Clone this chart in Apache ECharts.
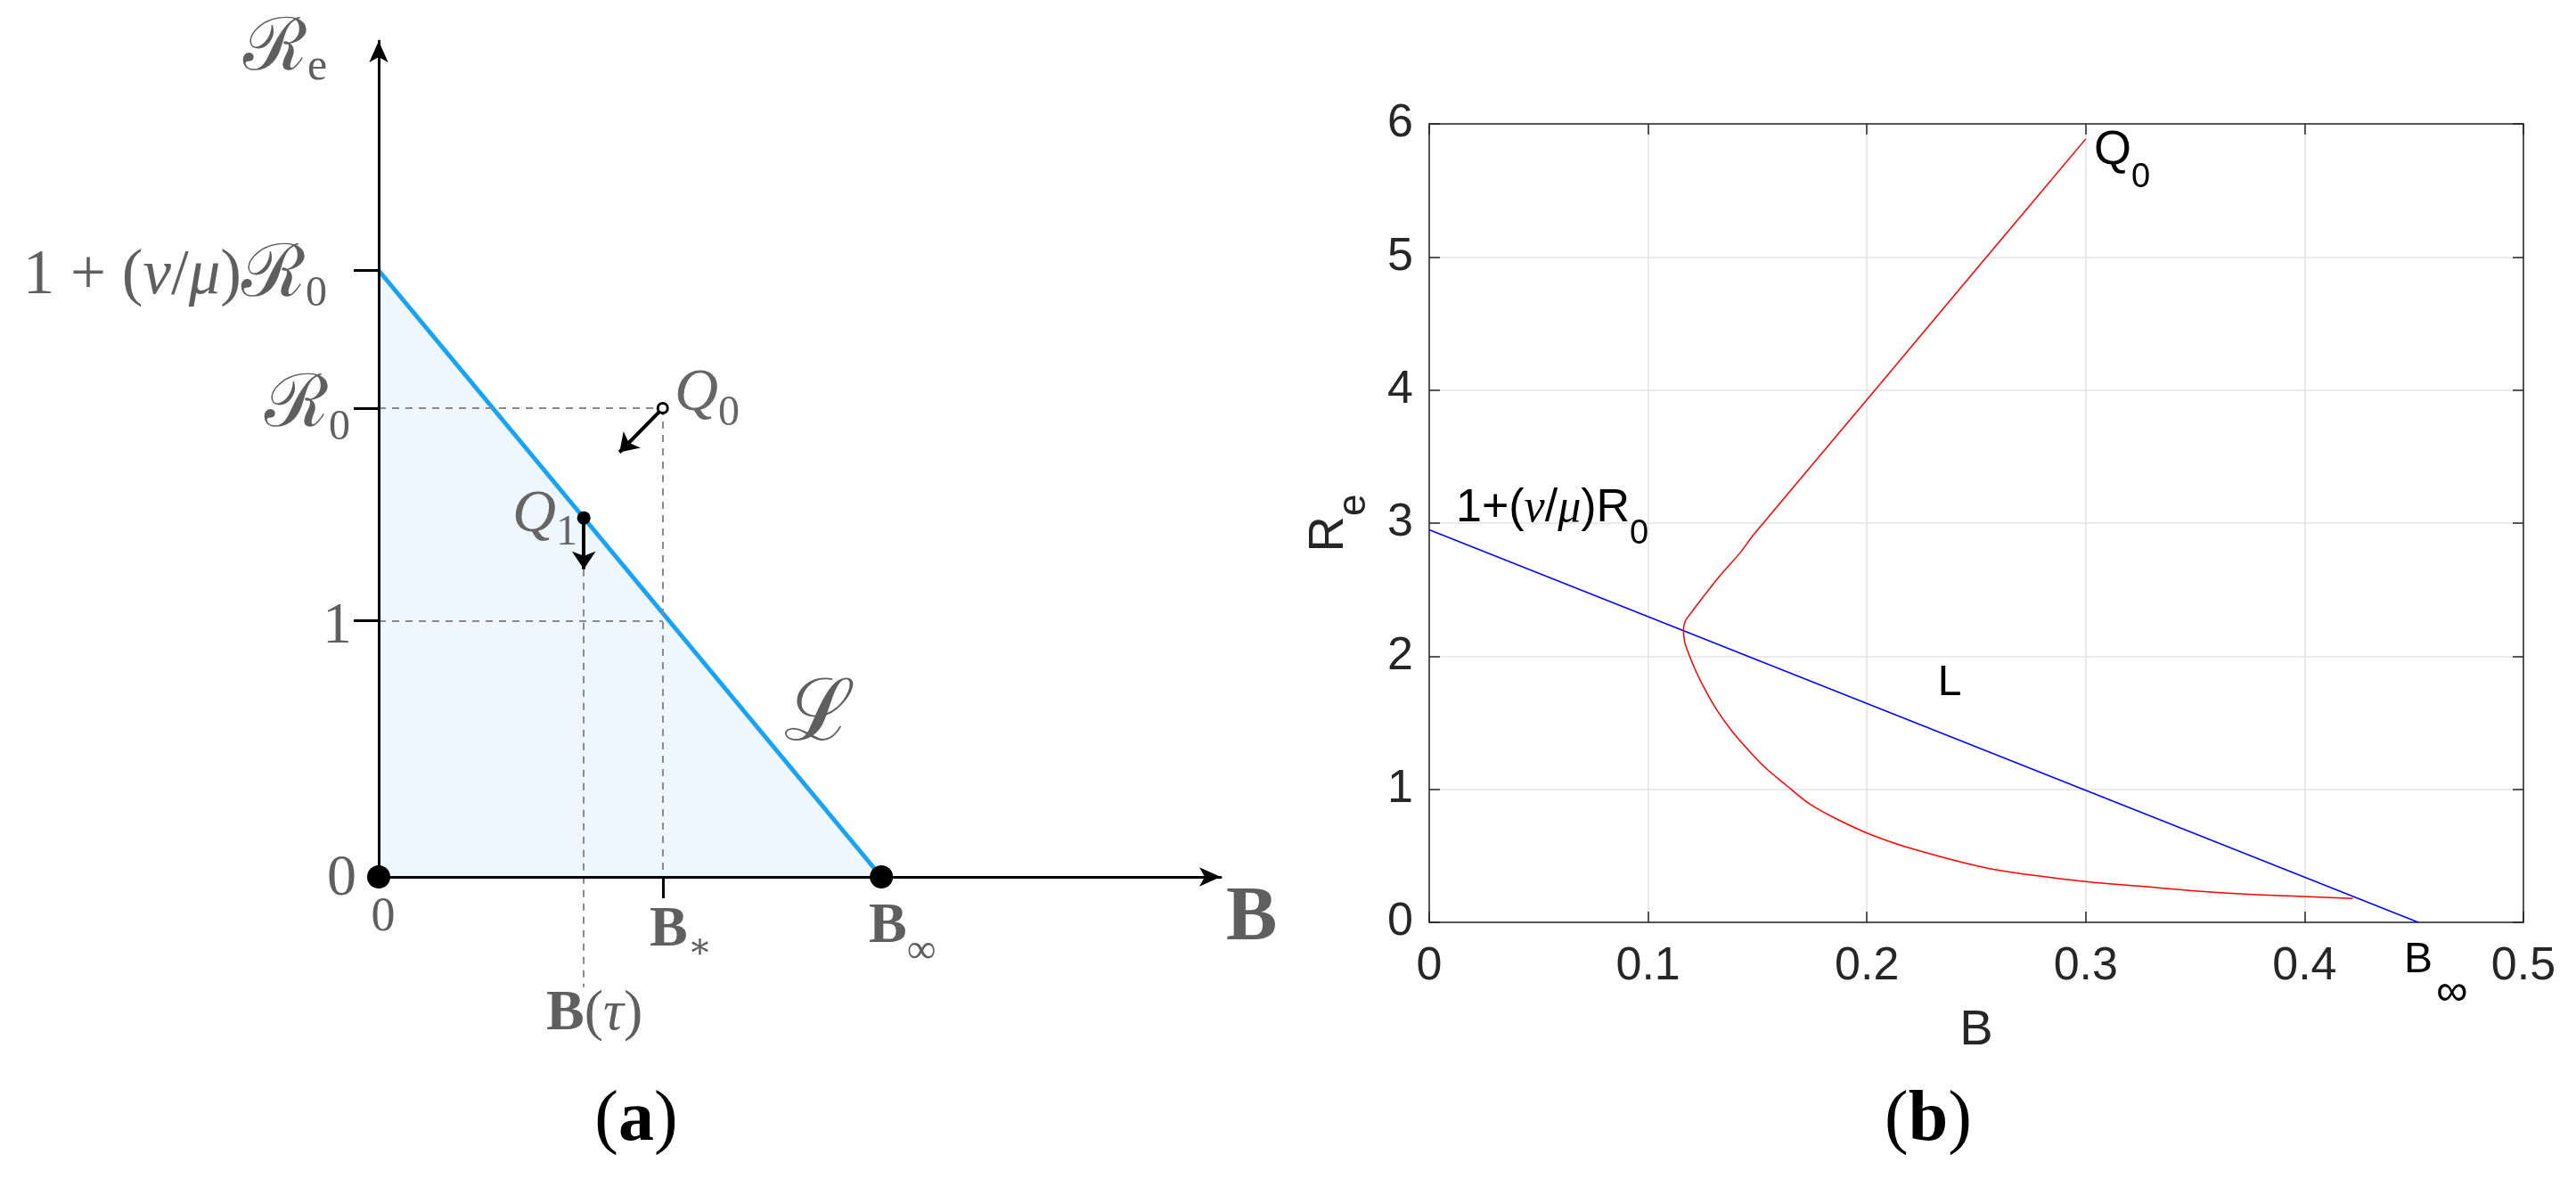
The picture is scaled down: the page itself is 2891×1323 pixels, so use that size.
<!DOCTYPE html>
<html><head><meta charset="utf-8">
<script src="https://cdn.jsdelivr.net/npm/echarts@6/dist/echarts.min.js"></script>
<style>html,body{margin:0;padding:0;background:#fff}#c{width:2891px;height:1323px}</style>
</head><body><div id="c"></div>
<script>
// ---------- Panel (a): schematic values (arbitrary units) ----------
const aBinf = 1.0;          // B_infinity
const aBstar = 0.565;       // B_*
const aBtau = 0.408;        // B(tau)
const aR0 = 1.828;          // R_0
const aRtop = 2.365;        // 1 + (nu/mu) R_0
const aOne = 1;
const aQ0 = [0.565, 1.828];
const aQ1 = [0.408, 1.40];
const aQ0ArrowEnd = [0.479, 1.656];
const aQ1ArrowEnd = [0.408, 1.20];
const aBtauGuideEnd = -0.43;
const aXMax = 1.675, aYMax = 3.26;

// ---------- Panel (b): simulated trajectory ----------
const bXTicks = [0, 0.1, 0.2, 0.3, 0.4, 0.5];
const bYTicks = [0, 1, 2, 3, 4, 5, 6];
const bLineB = [0, 0.452];
const bLineR = [2.95, 0];
const bBinf = 0.452;
const bCurveB = [0.300, 0.2547, 0.2037, 0.1483, 0.1422, 0.1327, 0.1246, 0.1205, 0.1171, 0.1162, 0.1167, 0.1185, 0.1219, 0.1259, 0.1314, 0.1382, 0.1477, 0.1544, 0.1626, 0.1735, 0.1870, 0.2020, 0.2219, 0.2566, 0.3000, 0.3241, 0.3513, 0.3784, 0.4000, 0.4221];
const bCurveR = [5.887, 5.000, 4.000, 2.914, 2.780, 2.601, 2.433, 2.344, 2.266, 2.199, 2.110, 2.021, 1.887, 1.753, 1.596, 1.440, 1.261, 1.150, 1.038, 0.893, 0.770, 0.658, 0.547, 0.402, 0.306, 0.2726, 0.234, 0.2076, 0.194, 0.179];

const zip = (xs, ys) => xs.map((x, i) => [x, ys[i]]);

const GRAY = '#5f5f5f';
const QGRAY = '#666666';
const SERIF = "'Liberation Serif','DejaVu Serif',serif";
const SANS = "'Liberation Sans',Arial,sans-serif";
const AX = '#262626';

// text runs laid out left-to-right with measured widths
const mctx = document.createElement('canvas').getContext('2d');
function seg(t, size, o) {
  o = o || {};
  return {t: t, size: size, fam: o.fam || SERIF, style: o.it ? 'italic' : 'normal',
          weight: o.bold ? 'bold' : 'normal', dy: o.dy || 0};
}
function measure(s) {
  mctx.font = s.style + ' ' + s.weight + ' ' + s.size + 'px ' + s.fam;
  return mctx.measureText(s.t).width;
}
function run(x, y, align, color, segs) {
  const ws = segs.map(measure);
  const total = ws.reduce((a, b) => a + b, 0);
  let cx = align === 'right' ? x - total : (align === 'center' ? x - total / 2 : x);
  return segs.map((s, i) => {
    const el = {type: 'text', x: cx, y: y + s.dy, z: 100,
      style: {text: s.t, fontSize: s.size, fontFamily: s.fam, fontStyle: s.style,
              fontWeight: s.weight, fill: color, align: 'left', verticalAlign: 'middle'}};
    cx += ws[i];
    return el;
  });
}
const S = SANS;
const graphics = [].concat(
  // ----- panel (a)
  run(273, 56, 'left', GRAY, [seg('ℛ', 82), seg('e', 50, {dy: 20})]),
  run(367, 310, 'right', GRAY, [seg('1 + (', 71), seg('ν', 71, {it: 1}), seg('/', 71), seg('μ', 71, {it: 1}), seg(')', 71), seg('ℛ', 82), seg('0', 48, {dy: 20})]),
  run(393, 456, 'right', GRAY, [seg('ℛ', 82), seg('0', 48, {dy: 24})]),
  run(395, 704, 'right', GRAY, [seg('1', 66)]),
  run(400, 987, 'right', GRAY, [seg('0', 66)]),
  run(430, 1030, 'center', GRAY, [seg('0', 54)]),
  run(729, 1044, 'left', GRAY, [seg('B', 64, {bold: 1}), seg('∗', 40, {dy: 20})]),
  run(975, 1040, 'left', GRAY, [seg('B', 64, {bold: 1}), seg('∞', 46, {dy: 28})]),
  run(613, 1138, 'left', GRAY, [seg('B', 64, {bold: 1}), seg('(', 64), seg('τ', 64, {it: 1}), seg(')', 64)]),
  run(1376, 1032, 'left', GRAY, [seg('B', 86, {bold: 1})]),
  run(757, 442, 'left', QGRAY, [seg('Q', 68, {it: 1}), seg('0', 48, {dy: 22})]),
  run(575, 578, 'left', QGRAY, [seg('Q', 68, {it: 1}), seg('1', 48, {dy: 20})]),
  run(920, 805, 'center', GRAY, [seg('ℒ', 96)]),
  run(714, 1258, 'center', '#000', [seg('(', 80), seg('a', 80, {bold: 1}), seg(')', 80)]),
  // ----- panel (b)
  run(2350, 169, 'left', '#000', [seg('Q', 54, {fam: S}), seg('0', 38, {fam: S, dy: 31})]),
  run(1634, 571, 'left', '#000', [seg('1+(', 52, {fam: S}), seg('ν', 52, {it: 1}), seg('/', 52, {fam: S}), seg('μ', 52, {it: 1}), seg(')R', 52, {fam: S}), seg('0', 38, {fam: S, dy: 29})]),
  run(2188, 767, 'center', '#000', [seg('L', 48, {fam: S})]),
  run(2164, 1258, 'center', '#000', [seg('(', 80), seg('b', 80, {bold: 1}), seg(')', 80)])
);

const hiddenAxis = {type: 'value', min: 0, max: 0.5, position: 'bottom',
  axisLine: {show: false}, axisTick: {show: false}, splitLine: {show: false}};

const chart = echarts.init(document.getElementById('c'), null, {renderer: 'canvas'});
const option = {
  backgroundColor: '#ffffff',
  animation: false,
  grid: [
    {left: 425, top: 46, width: 945, height: 938},
    {left: 1604, top: 139, width: 1228, height: 896}
  ],
  xAxis: [
    {gridIndex: 0, type: 'value', min: 0, max: aXMax, z: 3,
      axisLine: {show: true, onZero: false, lineStyle: {color: '#000', width: 3}, symbol: ['none', 'arrow'], symbolSize: [16, 24]},
      axisTick: {show: true, customValues: [aBstar], length: 24, lineStyle: {color: '#000', width: 3}},
      axisLabel: {show: false}, splitLine: {show: false}},
    {gridIndex: 1, type: 'value', min: 0, max: 0.5, interval: 0.1,
      name: 'B', nameLocation: 'middle', nameGap: 94,
      nameTextStyle: {fontSize: 56, fontFamily: SANS, color: AX},
      axisLine: {show: true, onZero: false, lineStyle: {color: AX, width: 1.5}},
      axisTick: {show: true, inside: true, length: 12, lineStyle: {color: AX, width: 1.5}},
      axisLabel: {fontSize: 52, fontFamily: SANS, color: AX, margin: 24},
      splitLine: {show: true, lineStyle: {color: '#e3e3e3', width: 1.5}}},
    {gridIndex: 1, type: 'value', min: 0, max: 0.5, interval: 0.1, position: 'top',
      axisLine: {show: true, onZero: false, lineStyle: {color: AX, width: 1.5}},
      axisTick: {show: true, inside: true, length: 12, lineStyle: {color: AX, width: 1.5}},
      axisLabel: {show: false}, splitLine: {show: false}},
    // B_infinity annotation under the axis
    Object.assign({gridIndex: 1}, hiddenAxis, {
      axisLabel: {customValues: [bBinf], formatter: () => 'B', fontSize: 48, fontFamily: SANS, color: '#000', margin: 19}}),
    Object.assign({gridIndex: 1}, hiddenAxis, {
      axisLabel: {customValues: [bBinf], formatter: () => '∞', fontSize: 50, fontFamily: SANS, color: '#000', margin: 54, align: 'left', padding: [0, 0, 0, 20]}})
  ],
  yAxis: [
    {gridIndex: 0, type: 'value', min: 0, max: aYMax, z: 3,
      axisLine: {show: true, onZero: false, lineStyle: {color: '#000', width: 3}, symbol: ['none', 'arrow'], symbolSize: [16, 24]},
      axisTick: {show: true, customValues: [aOne, aR0, aRtop], length: 28, lineStyle: {color: '#000', width: 3}},
      axisLabel: {show: false}, splitLine: {show: false}},
    {gridIndex: 1, type: 'value', min: 0, max: 6, interval: 1,
      name: '{m|R}{s|e}', nameLocation: 'middle', nameGap: 62, nameRotate: 90,
      nameTextStyle: {rich: {
        m: {fontSize: 56, fontFamily: SANS, color: AX, lineHeight: 100},
        s: {fontSize: 44, fontFamily: SANS, color: AX, lineHeight: 24, verticalAlign: 'bottom'}}},
      axisLine: {show: true, onZero: false, lineStyle: {color: AX, width: 1.5}},
      axisTick: {show: true, inside: true, length: 12, lineStyle: {color: AX, width: 1.5}},
      axisLabel: {fontSize: 52, fontFamily: SANS, color: AX, margin: 18},
      splitLine: {show: true, lineStyle: {color: '#e3e3e3', width: 1.5}}},
    {gridIndex: 1, type: 'value', min: 0, max: 6, interval: 1, position: 'right',
      axisLine: {show: true, onZero: false, lineStyle: {color: AX, width: 1.5}},
      axisTick: {show: true, inside: true, length: 12, lineStyle: {color: AX, width: 1.5}},
      axisLabel: {show: false}, splitLine: {show: false}}
  ],
  series: [
    // ---- panel (a)
    {type: 'line', xAxisIndex: 0, yAxisIndex: 0, z: 1, symbol: 'none',
      data: [[0, aRtop], [aBinf, 0]],
      lineStyle: {color: '#19a3f3', width: 5},
      areaStyle: {color: '#eef7fe', opacity: 1}},
    {type: 'lines', coordinateSystem: 'cartesian2d', xAxisIndex: 0, yAxisIndex: 0, z: 2, clip: false,
      symbol: 'none',
      lineStyle: {color: '#8a8a8a', width: 2, type: [8, 7], opacity: 1},
      data: [
        {coords: [[0, aR0], aQ0]},
        {coords: [aQ0, [aBstar, 0]]},
        {coords: [[0, aOne], [aBstar, aOne]]},
        {coords: [aQ1ArrowEnd, [aBtau, aBtauGuideEnd]]}
      ]},
    {type: 'lines', coordinateSystem: 'cartesian2d', xAxisIndex: 0, yAxisIndex: 0, z: 5, clip: false,
      symbol: ['none', 'arrow'], symbolSize: [0, 20],
      lineStyle: {color: '#000', width: 4, opacity: 1},
      data: [{coords: [aQ0, aQ0ArrowEnd]}, {coords: [aQ1, aQ1ArrowEnd]}]},
    {type: 'scatter', xAxisIndex: 0, yAxisIndex: 0, z: 6, symbolSize: 26,
      itemStyle: {color: '#000', opacity: 1}, data: [[0, 0], [aBinf, 0]]},
    {type: 'scatter', xAxisIndex: 0, yAxisIndex: 0, z: 6, symbolSize: 15,
      itemStyle: {color: '#000', opacity: 1}, data: [aQ1]},
    {type: 'scatter', xAxisIndex: 0, yAxisIndex: 0, z: 7, symbolSize: 11,
      itemStyle: {color: '#fff', borderColor: '#000', borderWidth: 3, opacity: 1}, data: [aQ0]},
    // ---- panel (b)
    {type: 'line', xAxisIndex: 1, yAxisIndex: 1, z: 3, symbol: 'none',
      data: zip(bLineB, bLineR), lineStyle: {color: '#0000ff', width: 1.5}},
    {type: 'line', xAxisIndex: 1, yAxisIndex: 1, z: 4, symbol: 'none', smooth: 0.3,
      data: zip(bCurveB, bCurveR), lineStyle: {color: '#ff0000', width: 1.5}}
  ],
  graphic: graphics
};
chart.setOption(option);
</script></body></html>
